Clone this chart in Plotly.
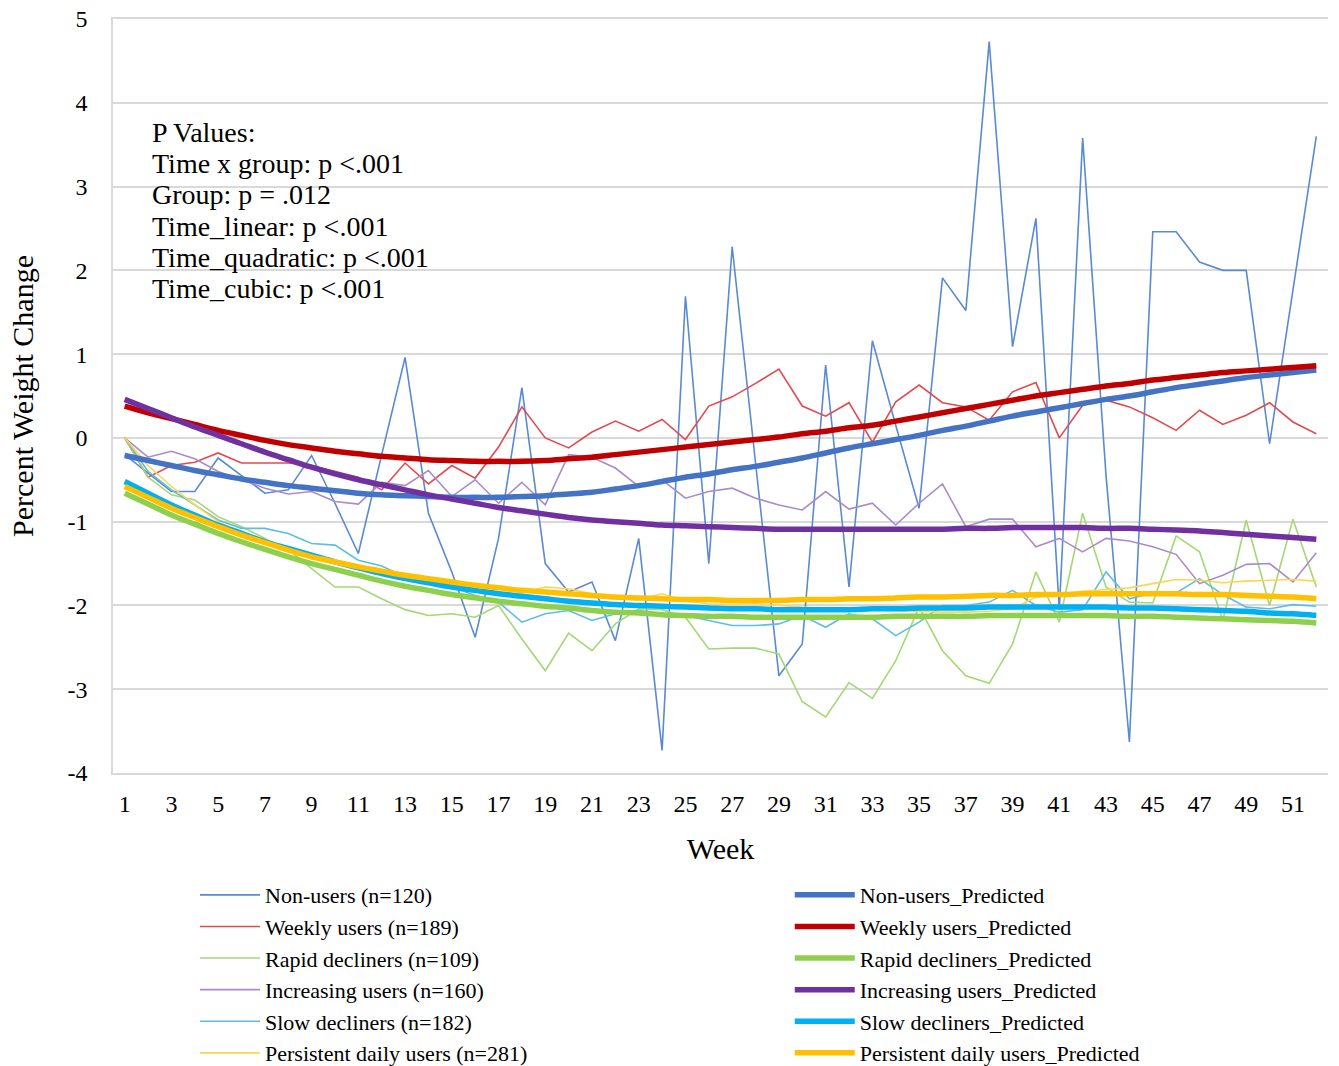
import plotly.graph_objects as go

weeks = list(range(1, 53))
week_ticks = list(range(1, 53, 2))
y_ticks = [-4, -3, -2, -1, 0, 1, 2, 3, 4, 5]
y_tick_labels = ["-4", "-3", "-2", "-1", "0", "1", "2", "3", "4", "5"]

non_users = [-0.2, -0.42, -0.64, -0.64, -0.24, -0.45, -0.66, -0.62, -0.21, -0.78,
             -1.38, -0.2, 0.96, -0.9, -1.6, -2.38, -1.2, 0.6, -1.5, -1.84,
             -1.72, -2.42, -1.2, -3.73, 1.69, -1.5, 2.28, -0.3, -2.84, -2.46,
             0.87, -1.78, 1.16, 0.15, -0.84, 1.91, 1.52, 4.73, 1.09, 2.62,
             -2.05, 3.58, -0.45, -3.63, 2.46, 2.46, 2.1, 2.0, 2.0, -0.07,
             1.76, 3.6]
weekly = [0.0, -0.47, -0.33, -0.29, -0.18, -0.3, -0.3, -0.3, -0.33, -0.4,
          -0.47, -0.62, -0.3, -0.55, -0.33, -0.48, -0.11, 0.37, 0.0, -0.12,
          0.07, 0.2, 0.08, 0.22, -0.02, 0.38, 0.49, 0.65, 0.82, 0.38,
          0.26, 0.42, -0.05, 0.43, 0.63, 0.42, 0.37, 0.21, 0.55, 0.66,
          0.0, 0.39, 0.45, 0.37, 0.24, 0.09, 0.33, 0.16, 0.27, 0.42,
          0.19, 0.05]
rapid = [0.0, -0.47, -0.68, -0.74, -0.94, -1.06, -1.2, -1.33, -1.56, -1.78,
         -1.78, -1.92, -2.05, -2.12, -2.1, -2.14, -2.0, -2.4, -2.78, -2.33,
         -2.54, -2.22, -2.04, -2.05, -2.14, -2.52, -2.51, -2.51, -2.58, -3.15,
         -3.33, -2.92, -3.11, -2.66, -2.02, -2.54, -2.84, -2.93, -2.46, -1.6,
         -2.2, -0.9, -1.78, -1.96, -1.97, -1.17, -1.36, -2.18, -0.98, -2.0,
         -0.97, -1.78]
increasing = [0.0, -0.23, -0.16, -0.25, -0.4, -0.5, -0.6, -0.67, -0.64, -0.76,
              -0.79, -0.53, -0.57, -0.39, -0.7, -0.5, -0.78, -0.53, -0.8, -0.2,
              -0.23, -0.36, -0.58, -0.5, -0.72, -0.64, -0.6, -0.72, -0.8, -0.86,
              -0.64, -0.85, -0.78, -1.04, -0.78, -0.55, -1.06, -0.97, -0.97, -1.3,
              -1.2, -1.36, -1.2, -1.23, -1.3, -1.39, -1.74, -1.64, -1.51, -1.5,
              -1.72, -1.37]
slow = [0.0, -0.4, -0.62, -0.8, -0.98, -1.08, -1.08, -1.14, -1.26, -1.28,
        -1.46, -1.53, -1.66, -1.74, -1.78, -1.88, -1.96, -2.2, -2.1, -2.06,
        -2.18, -2.1, -2.06, -2.1, -2.12, -2.18, -2.24, -2.24, -2.22, -2.12,
        -2.26, -2.1, -2.16, -2.36, -2.2, -2.0, -2.0, -1.96, -1.82, -2.0,
        -2.08, -2.05, -1.6, -1.92, -1.85, -1.85, -1.68, -1.87, -2.02, -2.04,
        -1.99, -2.01]
persistent = [0.0, -0.33, -0.58, -0.8, -1.0, -1.12, -1.22, -1.33, -1.42, -1.5,
              -1.56, -1.62, -1.68, -1.72, -1.76, -1.78, -1.8, -1.85, -1.78, -1.8,
              -1.86, -1.92, -1.93, -1.86, -1.95, -1.98, -1.99, -1.98, -2.0, -2.02,
              -2.03, -2.05, -2.05, -2.06, -2.07, -2.08, -2.08, -2.07, -2.04, -1.9,
              -1.88, -1.83, -1.81, -1.79, -1.74, -1.69, -1.7, -1.73, -1.71, -1.7,
              -1.69, -1.71]

non_users_pred = [-0.21, -0.27, -0.33, -0.39, -0.44, -0.49, -0.53, -0.57, -0.6, -0.63,
                  -0.66, -0.68, -0.69, -0.7, -0.71, -0.71, -0.71, -0.7, -0.69, -0.67,
                  -0.65, -0.61, -0.57, -0.52, -0.47, -0.43, -0.38, -0.34, -0.29, -0.24,
                  -0.18, -0.12, -0.07, -0.02, 0.03, 0.09, 0.14, 0.2, 0.26, 0.31,
                  0.36, 0.41, 0.46, 0.5, 0.55, 0.6, 0.64, 0.68, 0.72, 0.75,
                  0.78, 0.81]
weekly_pred = [0.38, 0.3, 0.23, 0.16, 0.09, 0.03, -0.03, -0.08, -0.12, -0.16,
               -0.19, -0.22, -0.24, -0.26, -0.27, -0.28, -0.28, -0.28, -0.27, -0.25,
               -0.23, -0.2, -0.17, -0.14, -0.11, -0.08, -0.05, -0.02, 0.01, 0.05,
               0.08, 0.12, 0.15, 0.2, 0.25, 0.3, 0.35, 0.4, 0.45, 0.5,
               0.54, 0.58, 0.62, 0.65, 0.69, 0.72, 0.75, 0.78, 0.8, 0.82,
               0.84, 0.86]
rapid_pred = [-0.66, -0.79, -0.92, -1.03, -1.14, -1.24, -1.33, -1.42, -1.5, -1.57,
              -1.64, -1.71, -1.77, -1.82, -1.87, -1.91, -1.95, -1.98, -2.01, -2.03,
              -2.06, -2.08, -2.09, -2.11, -2.12, -2.13, -2.13, -2.14, -2.14, -2.14,
              -2.14, -2.14, -2.14, -2.13, -2.13, -2.13, -2.13, -2.12, -2.12, -2.12,
              -2.12, -2.12, -2.12, -2.13, -2.13, -2.14, -2.15, -2.16, -2.17, -2.18,
              -2.19, -2.21]
increasing_pred = [0.46, 0.35, 0.24, 0.13, 0.03, -0.07, -0.17, -0.26, -0.35, -0.43,
                   -0.5, -0.56, -0.62, -0.68, -0.73, -0.78, -0.83, -0.87, -0.91, -0.95,
                   -0.98, -1.0, -1.02, -1.04, -1.05, -1.06, -1.07, -1.08, -1.09, -1.09,
                   -1.09, -1.09, -1.09, -1.09, -1.09, -1.09, -1.08, -1.08, -1.07, -1.07,
                   -1.07, -1.07, -1.08, -1.08, -1.09, -1.1, -1.11, -1.13, -1.15, -1.17,
                   -1.19, -1.21]
slow_pred = [-0.52, -0.66, -0.8, -0.92, -1.04, -1.14, -1.24, -1.32, -1.4, -1.48,
             -1.55, -1.62, -1.68, -1.73, -1.78, -1.82, -1.86, -1.89, -1.92, -1.95,
             -1.97, -1.99, -2.0, -2.01, -2.02, -2.03, -2.04, -2.04, -2.05, -2.05,
             -2.05, -2.05, -2.04, -2.04, -2.03, -2.03, -2.03, -2.02, -2.02, -2.02,
             -2.02, -2.02, -2.02, -2.03, -2.03, -2.04, -2.05, -2.06, -2.07, -2.09,
             -2.1, -2.12]
persistent_pred = [-0.58, -0.71, -0.84, -0.95, -1.06, -1.16, -1.25, -1.34, -1.42, -1.48,
                   -1.54, -1.59, -1.64, -1.68, -1.72, -1.76, -1.79, -1.82, -1.84, -1.86,
                   -1.88, -1.9, -1.91, -1.92, -1.93, -1.93, -1.94, -1.94, -1.94, -1.93,
                   -1.93, -1.92, -1.92, -1.91, -1.9, -1.9, -1.89, -1.88, -1.88, -1.87,
                   -1.87, -1.86, -1.86, -1.86, -1.86, -1.86, -1.87, -1.87, -1.88, -1.89,
                   -1.9, -1.92]

observed_names = ["Non-users (n=120)", "Weekly users (n=189)", "Rapid decliners (n=109)",
                  "Increasing users (n=160)", "Slow decliners (n=182)",
                  "Persistent daily users (n=281)"]
predicted_names = ["Non-users_Predicted", "Weekly users_Predicted", "Rapid decliners_Predicted",
                   "Increasing users_Predicted", "Slow decliners_Predicted",
                   "Persistent daily users_Predicted"]
observed = [non_users, weekly, rapid, increasing, slow, persistent]
predicted = [non_users_pred, weekly_pred, rapid_pred, increasing_pred, slow_pred, persistent_pred]
thin_colors = ["#5A8AD2", "#E24A4F", "#A3D874", "#A98BC9", "#5CBEE3", "#FFD54F"]
thick_colors = ["#4472C4", "#C00000", "#8FCF4E", "#7030A0", "#00B0F0", "#FFC000"]

pvalue_lines = ["P Values:", "Time x group: p <.001", "Group: p = .012",
                "Time_linear: p <.001", "Time_quadratic: p <.001", "Time_cubic: p <.001"]

FONT = "Liberation Serif, Times New Roman, serif"

fig = go.Figure()
for name, vals, col in zip(observed_names, observed, thin_colors):
    fig.add_trace(go.Scatter(x=weeks, y=vals, mode="lines", name=name,
                             line=dict(color=col, width=1.6), legend="legend"))
for name, vals, col in zip(predicted_names, predicted, thick_colors):
    fig.add_trace(go.Scatter(x=weeks, y=vals, mode="lines", name=name,
                             line=dict(color=col, width=5.5, shape="spline"), legend="legend2"))

annotations = []
for i, txt in enumerate(pvalue_lines):
    annotations.append(dict(text=txt, xref="paper", yref="paper",
                            x=0.0305, y=0.849 - i * 0.0412, xanchor="left", yanchor="middle",
                            showarrow=False, font=dict(family=FONT, size=28, color="#000000")))

fig.update_layout(
    width=1339, height=1066,
    margin=dict(l=113, r=11, t=19, b=293, autoexpand=False),
    paper_bgcolor="white", plot_bgcolor="white",
    font=dict(family=FONT, color="#000000"),
    annotations=annotations,
    legend=dict(x=0.0675, y=-0.134, xanchor="left", yanchor="top", orientation="v",
                itemwidth=60,
                font=dict(family=FONT, size=22, color="#000000"), bgcolor="rgba(0,0,0,0)",
                traceorder="normal"),
    legend2=dict(x=0.557, y=-0.134, xanchor="left", yanchor="top", orientation="v",
                 itemwidth=60,
                 font=dict(family=FONT, size=22, color="#000000"), bgcolor="rgba(0,0,0,0)",
                 traceorder="normal"),
    xaxis=dict(range=[0.5, 52.5], tickmode="array", tickvals=week_ticks,
               showgrid=False, zeroline=False, automargin=False,
               showline=True, mirror=True, linecolor="#D9D9D9", linewidth=1.5, ticks="",
               ticklabelstandoff=8, ticklabeloverflow="allow",
               tickfont=dict(family=FONT, size=24, color="#000000"),
               title=dict(text="Week", font=dict(family=FONT, size=30, color="#000000"), standoff=22)),
    yaxis=dict(range=[-4, 5], tickmode="array", tickvals=y_ticks, ticktext=y_tick_labels,
               showgrid=True, gridcolor="#D9D9D9", gridwidth=1.5, automargin=False,
               zeroline=False, showline=True, linecolor="#D9D9D9", linewidth=1.5, ticks="",
               ticklabelstandoff=19, ticklabeloverflow="allow",
               tickfont=dict(family=FONT, size=24, color="#000000"),
               title=dict(text="Percent Weight Change", font=dict(family=FONT, size=30, color="#000000"),
                          standoff=25)),
)

# remove the browser's default 8px body margin so the 1339x1066 figure fills the window
fig.write_html("out.html", config={"displayModeBar": False},
               post_script="document.body.style.margin='0px';")
